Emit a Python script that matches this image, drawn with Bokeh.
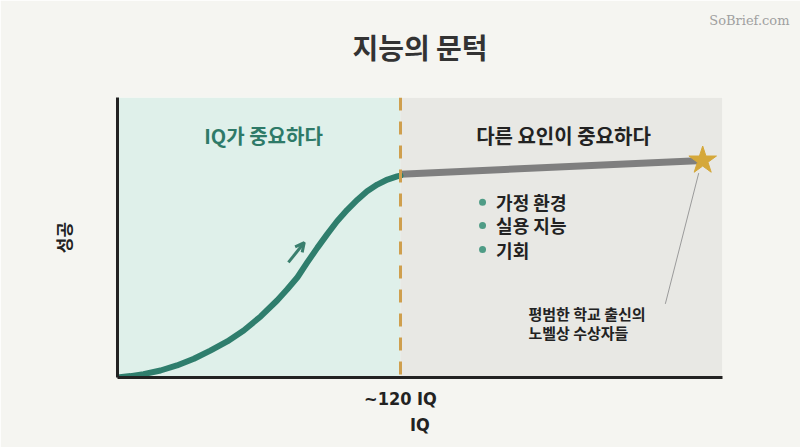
from bokeh.plotting import figure
from bokeh.models import Range1d, Label, Span, Arrow, OpenHead, FixedTicker, ColumnDataSource, Title
from bokeh.core.properties import value
from bokeh.embed import file_html
from bokeh.resources import INLINE

# ---- data ----
title_text = "지능의 문턱"
watermark_text = "SoBrief.com"
x_label = "IQ"
y_label = "성공"
threshold_iq = 120
threshold_label = "~120 IQ"
left_header = "IQ가 중요하다"
right_header = "다른 요인이 중요하다"

curve_iq = [70.0, 72.3, 74.6, 77.6, 80.5, 83.5, 86.4, 89.4, 92.3, 95.3, 98.2, 100.0,
            101.8, 103.5, 105.3, 107.1, 108.8, 110.6, 112.4, 114.1, 115.9, 117.7, 119.4, 120.0]
curve_success = [0.0, 0.5, 1.2, 2.5, 4.3, 6.7, 9.6, 12.9, 16.8, 21.8, 27.5, 31.5,
                 35.8, 41.0, 46.3, 51.3, 55.8, 59.9, 63.5, 66.5, 68.9, 70.7, 71.8, 72.1]

plateau_iq = [120, 173.4]
plateau_success = [72.6, 77.5]

star_iq = [173.4]
star_success = [77.5]

bullet_items = ["가정 환경", "실용 지능", "기회"]
bullet_success = [62.6, 54.3, 45.7]

annotation_lines = ["평범한 학교 출신의", "노벨상 수상자들"]

X0, X1 = 70, 176.9
Y0, Y1 = 0, 100

KR = "Noto Sans CJK KR"
NARROW = "'DejaVu Sans Condensed', Roboto, sans-serif"
BG = "#f5f5f1"
TEAL = "#2f7e6d"

p = figure(width=800, height=447, output_backend="svg", toolbar_location=None,
           x_range=Range1d(X0, X1), y_range=Range1d(Y0, Y1),
           min_border_left=117, min_border_right=78, min_border_top=97, min_border_bottom=70)
p.title = None
p.background_fill_color = BG
p.border_fill_color = BG
p.outline_line_color = None
p.grid.visible = False

# spacer (closest to frame), then title, then watermark (outermost)
p.add_layout(Title(text=" ", text_font_size="10px", standoff=21), "above")
p.add_layout(Title(text=title_text, align="center", text_font=KR, text_font_style="bold",
                   text_font_size="28px", text_color="#333333", standoff=-6.5), "above")
p.add_layout(Title(text=watermark_text, align="right", text_font="DejaVu Serif",
                   text_font_size="13px", text_font_style="normal", text_color="#a0a0a0",
                   standoff=0, offset=-67), "above")

# axes
p.xaxis.ticker = FixedTicker(ticks=[threshold_iq])
p.xaxis.major_label_overrides = {threshold_iq: threshold_label}
p.xaxis.axis_label = x_label
p.yaxis.ticker = FixedTicker(ticks=[])
p.yaxis.axis_label = y_label
for ax in (p.xaxis, p.yaxis):
    ax.axis_line_color = "#222222"
    ax.axis_line_width = 3
    ax.major_tick_line_color = None
    ax.minor_tick_line_color = None
    ax.major_tick_out = 0
    ax.major_tick_in = 0
    ax.minor_tick_out = 0
p.xaxis.major_label_text_font = NARROW
p.xaxis.major_label_text_font_style = "bold"
p.xaxis.major_label_text_font_size = "18px"
p.xaxis.major_label_text_color = "#222222"
p.xaxis.major_label_standoff = 10
p.xaxis.axis_label_text_font = NARROW
p.xaxis.axis_label_text_font_style = "bold"
p.xaxis.axis_label_text_font_size = "18px"
p.xaxis.axis_label_text_color = "#222222"
p.xaxis.axis_label_standoff = 2
p.yaxis.axis_label_text_font = KR
p.yaxis.axis_label_text_font_style = "bold"
p.yaxis.axis_label_text_font_size = "17px"
p.yaxis.axis_label_text_color = "#222222"
p.yaxis.axis_label_standoff = 42

# panels
p.quad(left=[X0], right=[threshold_iq], bottom=[Y0], top=[Y1], fill_color="#dff0ea", line_color=None)
p.quad(left=[threshold_iq], right=[X1], bottom=[Y0], top=[Y1], fill_color="#e8e8e4", line_color=None)

# threshold
p.add_layout(Span(location=threshold_iq, dimension="height", line_color="#cf9f4e",
                  line_width=3, line_dash="13 11"))

# plateau and curve
p.line(plateau_iq, plateau_success, line_color="#7f7f7f", line_width=7)
p.line(curve_iq, curve_success, line_color=TEAL, line_width=6, line_join="round", line_cap="round")

# pointer line from star to annotation
p.segment(x0=[172.7], y0=[73.0], x1=[166.8], y1=[26.3], line_color="#9a9a9a", line_width=1)

# star
p.scatter(star_iq, star_success, marker="star", size=29, fill_color="#d5a83a", line_color="#d5a83a")

# arrow
p.add_layout(Arrow(end=OpenHead(size=9, line_color="#3a7f6e", line_width=3),
                   x_start=100.2, y_start=41.1, x_end=103.0, y_end=48.2,
                   line_color="#3a7f6e", line_width=3))

# headers
p.add_layout(Label(x=95.8, y=86.4, text=left_header, text_font=KR, text_font_style="bold",
                   text_font_size="20px", text_color="#2e7a68", text_align="center", text_baseline="middle"))
p.add_layout(Label(x=148.8, y=86.4, text=right_header, text_font=KR, text_font_style="bold",
                   text_font_size="20px", text_color="#222222", text_align="center", text_baseline="middle"))

# bullets
bsrc = ColumnDataSource(dict(x=[134.5] * len(bullet_items), tx=[136.9] * len(bullet_items),
                             y=bullet_success, t=bullet_items))
p.scatter("x", "y", source=bsrc, size=7, fill_color="#4f9c86", line_color=None)
p.text("tx", "y", text="t", source=bsrc, text_font=value(KR), text_font_style="bold",
       text_font_size="18px", text_color="#222222", text_baseline="middle", text_align="left")

# annotation
for i, line in enumerate(annotation_lines):
    p.add_layout(Label(x=142.6, y=22.9 - i * 6.8, text=line, text_font=KR, text_font_style="bold",
                       text_font_size="15px", text_color="#222222", text_align="left", text_baseline="middle"))

open("out.html", "w").write(file_html(p, INLINE))
